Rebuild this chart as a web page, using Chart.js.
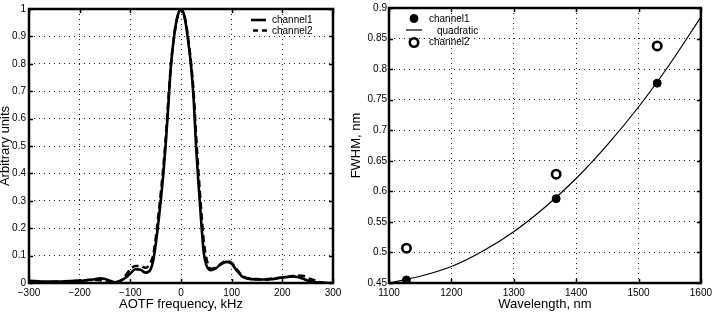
<!DOCTYPE html>
<html><head><meta charset="utf-8">
<script src="https://cdn.jsdelivr.net/npm/chart.js@4.4.1/dist/chart.umd.min.js"></script>
<style>
html,body{margin:0;padding:0;background:#fff;}
#wrap{position:relative;width:716px;height:312px;overflow:hidden;background:#fff;}
#c1{position:absolute;left:0;top:0;}
#c2{position:absolute;left:346px;top:0;}
</style></head><body>
<div id="wrap"><canvas id="c1" width="358" height="312"></canvas><canvas id="c2" width="370" height="312"></canvas></div>
<script>
// ---- Left panel data: AOTF transfer function ----
const freq = [-300,-290,-280,-270,-260,-250,-240,-230,-220,-210,-200,-190,-180,-170,-160,-150,-140,-130,-120,-110,-100,-90,-80,-70,-60,
  -55,-50,-45,-40,-35,-30,-25,-20,-15,-10,-5,0,5,10,15,20,25,30,35,40,45,50,55,
  60,70,80,90,100,110,120,130,140,150,160,170,180,190,200,210,220,230,240,250,260,270,280,290,300];
const channel1 = [0.008,0.007,0.006,0.005,0.005,0.005,0.005,0.006,0.007,0.008,0.008,0.009,0.011,0.014,0.017,0.015,0.008,0.003,0.008,0.018,0.035,0.050,0.048,0.038,0.050,
  0.080,0.140,0.215,0.300,0.395,0.510,0.650,0.790,0.880,0.945,0.985,1.0,0.985,0.940,0.870,0.790,0.670,0.490,0.350,0.220,0.110,0.065,0.050,
  0.047,0.055,0.070,0.077,0.070,0.045,0.025,0.016,0.014,0.013,0.013,0.012,0.014,0.017,0.020,0.022,0.024,0.022,0.016,0.009,0.004,0.002,0.001,0.0,0.0];
const channel2 = [0.006,0.005,0.004,0.003,0.003,0.004,0.004,0.005,0.006,0.007,0.008,0.010,0.012,0.012,0.010,0.006,0.002,0.0,0.006,0.025,0.050,0.062,0.062,0.055,0.075,
  0.100,0.160,0.240,0.325,0.420,0.530,0.665,0.795,0.880,0.945,0.985,1.0,0.985,0.945,0.880,0.800,0.690,0.530,0.390,0.260,0.150,0.090,0.060,
  0.052,0.058,0.072,0.080,0.073,0.050,0.028,0.018,0.015,0.014,0.013,0.014,0.016,0.018,0.020,0.022,0.025,0.027,0.026,0.018,0.012,0.005,0.001,0.0,0.0];
const freqTicks = [-300,-200,-100,0,100,200,300];
const freqTickLabels = ['\u2212300','\u2212200','\u2212100','0','100','200','300'];
const ampTicks = [0,0.1,0.2,0.3,0.4,0.5,0.6,0.7,0.8,0.9,1];
const ampTickLabels = ['0','0.1','0.2','0.3','0.4','0.5','0.6','0.7','0.8','0.9','1'];

// ---- Right panel data: FWHM vs wavelength ----
const wavelength = [1128,1368,1530];
const fwhmChannel1 = [0.455,0.588,0.777];
const fwhmChannel2 = [0.507,0.628,0.838];
const fitWavelength = [1100,1150,1200,1250,1300,1350,1400,1450,1500,1550,1600];
const fitFwhm = [0.450,0.461,0.477,0.502,0.534,0.574,0.621,0.676,0.738,0.808,0.885];
const wlTicks = [1100,1200,1300,1400,1500,1600];
const wlTickLabels = ['1100','1200','1300','1400','1500','1600'];
const fwTicks = [0.45,0.5,0.55,0.6,0.65,0.7,0.75,0.8,0.85,0.9];
const fwTickLabels = ['0.45','0.5','0.55','0.6','0.65','0.7','0.75','0.8','0.85','0.9'];

const FONT = "'Liberation Sans', Arial, Helvetica, sans-serif";
const pts = (xs, ys) => xs.map((x, i) => ({x: x, y: ys[i]}));

// Box frame with inward ticks (MATLAB style)
const framePlugin = {
  id: 'frame',
  afterDatasetsDraw(chart) {
    const {ctx, chartArea: a, scales} = chart;
    ctx.save();
    ctx.strokeStyle = '#000';
    ctx.lineWidth = 1.5;
    const tl = 4;
    ctx.beginPath();
    scales.x.ticks.forEach(t => {
      const px = Math.round(scales.x.getPixelForValue(t.value)) + 0.5;
      ctx.moveTo(px, a.bottom); ctx.lineTo(px, a.bottom - tl);
      ctx.moveTo(px, a.top); ctx.lineTo(px, a.top + tl);
    });
    scales.y.ticks.forEach(t => {
      const py = Math.round(scales.y.getPixelForValue(t.value)) + 0.5;
      ctx.moveTo(a.left, py); ctx.lineTo(a.left + tl, py);
      ctx.moveTo(a.right, py); ctx.lineTo(a.right - tl, py);
    });
    ctx.stroke();
    ctx.lineWidth = 2.5;
    ctx.strokeRect(a.left, a.top, a.right - a.left, a.bottom - a.top);
    ctx.restore();
  }
};

// Legend drawn inside the plot area from the datasets' own labels/styles
const innerLegend = {
  id: 'innerLegend',
  afterDraw(chart, args, opts) {
    const {ctx} = chart;
    ctx.save();
    ctx.font = '10px ' + FONT;
    ctx.fillStyle = '#000';
    ctx.textBaseline = 'middle';
    (opts.items || []).forEach(it => {
      const ds = chart.data.datasets[it.index];
      if (it.kind === 'line') {
        ctx.save();
        ctx.strokeStyle = ds.borderColor;
        ctx.lineWidth = ds.borderWidth;
        ctx.setLineDash(ds.borderDash || []);
        ctx.lineDashOffset = it.dashOffset || 0;
        ctx.beginPath(); ctx.moveTo(it.x0, it.y); ctx.lineTo(it.x1, it.y); ctx.stroke();
        ctx.restore();
      } else {
        ctx.save();
        ctx.beginPath();
        ctx.arc(it.x0, it.y, ds.pointRadius, 0, Math.PI * 2);
        ctx.fillStyle = ds.pointBackgroundColor;
        ctx.fill();
        ctx.lineWidth = ds.pointBorderWidth;
        ctx.strokeStyle = ds.pointBorderColor;
        ctx.stroke();
        ctx.restore();
      }
      ctx.fillText(ds.label, it.tx, it.ty);
    });
    ctx.restore();
  }
};

function axis(opts) {
  return {
    type: 'linear',
    position: opts.position,
    min: opts.min, max: opts.max,
    afterFit: s => { if (opts.position === 'bottom') s.height = opts.size; else s.width = opts.size; },
    afterBuildTicks: s => { s.ticks = opts.ticks.map(v => ({value: v})); },
    ticks: {
      callback: (v, i) => opts.labels[i],
      font: {family: FONT, size: 10}, color: '#000',
      padding: opts.tickPad, maxRotation: 0, autoSkip: false
    },
    grid: {color: '#222', lineWidth: 1, drawTicks: false},
    border: {display: false, dash: [1, 4]},
    title: {display: true, text: opts.title, color: '#000',
      font: {family: FONT, size: 13, lineHeight: 1.2}, padding: opts.titlePad}
  };
}

new Chart(document.getElementById('c1'), {
  type: 'scatter',
  data: {datasets: [
    {label: 'channel1', data: pts(freq, channel1), showLine: true, borderColor: '#000', borderWidth: 2.6,
     pointRadius: 0, cubicInterpolationMode: 'monotone', order: 1},
    {label: 'channel2', data: pts(freq, channel2), showLine: true, borderColor: '#000', borderWidth: 2.6,
     borderDash: [7, 4], pointRadius: 0, cubicInterpolationMode: 'monotone', order: 2}
  ]},
  options: {
    responsive: false, animation: false, devicePixelRatio: 1,
    layout: {padding: {top: 7, right: 25, left: 0, bottom: 0}},
    plugins: {legend: {display: false}, tooltip: {enabled: false},
      innerLegend: {items: [
        {index: 0, kind: 'line', x0: 251, x1: 266, y: 20, tx: 272, ty: 20},
        {index: 1, kind: 'line', x0: 253, x1: 267, y: 30.5, tx: 272, ty: 31, dashOffset: 2}
      ]}},
    scales: {
      x: axis({position: 'bottom', min: -300, max: 300, size: 29, ticks: freqTicks, labels: freqTickLabels,
               tickPad: 4, title: 'AOTF frequency, kHz', titlePad: {top: 0, bottom: 0}}),
      y: axis({position: 'left', min: 0, max: 1, size: 29, ticks: ampTicks, labels: ampTickLabels,
               tickPad: 3, title: 'Arbitrary units', titlePad: {top: -2.5, bottom: 0}})
    }
  },
  plugins: [framePlugin, innerLegend]
});

new Chart(document.getElementById('c2'), {
  type: 'scatter',
  data: {datasets: [
    {label: 'channel1', data: pts(wavelength, fwhmChannel1), showLine: false, pointRadius: 4,
     pointBackgroundColor: '#000', pointBorderColor: '#000', pointBorderWidth: 1, order: 0},
    {label: 'quadratic', data: pts(fitWavelength, fitFwhm), showLine: true, borderColor: '#000', borderWidth: 1.2,
     pointRadius: 0, cubicInterpolationMode: 'monotone', order: 2},
    {label: 'channel2', data: pts(wavelength, fwhmChannel2), showLine: false, pointRadius: 4.2,
     pointBackgroundColor: '#fff', pointBorderColor: '#000', pointBorderWidth: 2.6, order: 1}
  ]},
  options: {
    responsive: false, animation: false, devicePixelRatio: 1,
    layout: {padding: {top: 7, right: 12, left: 0, bottom: 0}},
    plugins: {legend: {display: false}, tooltip: {enabled: false},
      innerLegend: {items: [
        {index: 0, kind: 'point', x0: 68, y: 18.5, tx: 83, ty: 19},
        {index: 1, kind: 'line', x0: 60, x1: 76, y: 30, tx: 91, ty: 31},
        {index: 2, kind: 'point', x0: 68, y: 42.5, tx: 83, ty: 42.5}
      ]}},
    scales: {
      x: axis({position: 'bottom', min: 1100, max: 1600, size: 29, ticks: wlTicks, labels: wlTickLabels,
               tickPad: 4, title: 'Wavelength, nm', titlePad: {top: 0, bottom: 0}}),
      y: axis({position: 'left', min: 0.45, max: 0.9, size: 43, ticks: fwTicks, labels: fwTickLabels,
               tickPad: 2, title: 'FWHM, nm', titlePad: {top: 2.2, bottom: 0}})
    }
  },
  plugins: [framePlugin, innerLegend]
});
</script>
</body></html>
